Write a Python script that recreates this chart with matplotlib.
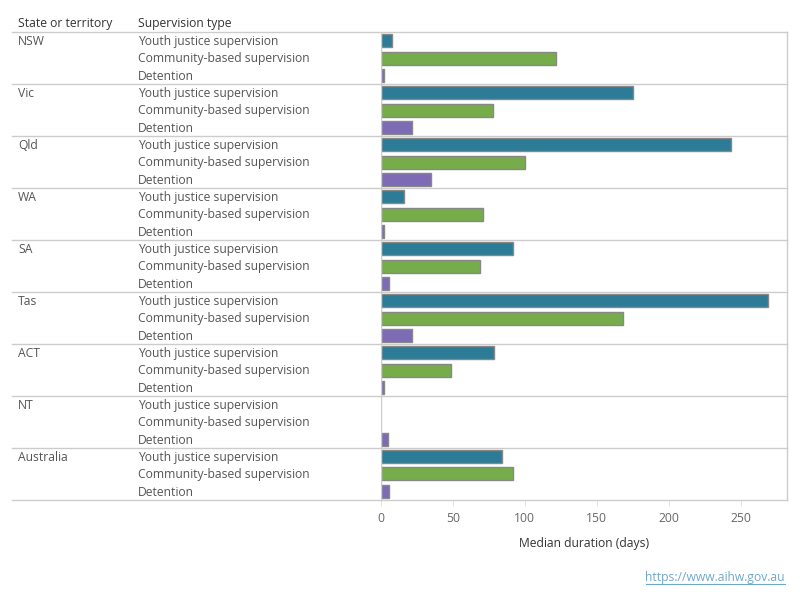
import matplotlib
matplotlib.use("Agg")
import matplotlib.pyplot as plt
import matplotlib.transforms as mtransforms
from matplotlib.lines import Line2D

states = ["NSW", "Vic", "Qld", "WA", "SA", "Tas", "ACT", "NT", "Australia"]
types = ["Youth justice supervision", "Community-based supervision", "Detention"]
youth = [8, 175, 243, 16, 92, 269, 79, None, 84]
community = [122, 78, 100, 71, 69, 168, 49, None, 92]
detention = [2, 22, 35, 2, 6, 21.5, 2, 5, 6]
colors = ["#2C7C98", "#76AD4A", "#7E6BB5"]
xticks = [0, 50, 100, 150, 200, 250]

plt.rcParams['font.family'] = ['Open Sans', 'DejaVu Sans']
FS = 8.7
W, H = 800, 600
fig = plt.figure(figsize=(8, 6), dpi=100)
x0, x1 = 380.7, 787
y_top, y_bot = 32, 500
ax = fig.add_axes([x0 / W, 1 - y_bot / H, (x1 - x0) / W, (y_bot - y_top) / H])
nrows = len(states) * 3
ax.set_ylim(nrows, 0)
xmax = (x1 - x0) / 1.44
ax.set_xlim(0, xmax)
for s in ax.spines.values():
    s.set_visible(False)
ax.set_yticks([])
ax.set_xticks(xticks)
ax.tick_params(axis='x', length=4, color='#e0e0e0', labelcolor='#666666', labelsize=FS, pad=5)
ax.set_xlabel("Median duration (days)", fontsize=FS, color='#333333', labelpad=8)

series = [youth, community, detention]
for gi in range(len(states)):
    for ti in range(3):
        v = series[ti][gi]
        y = gi * 3 + ti + 0.5
        if v is not None:
            ax.barh(y, v, height=0.75, color=colors[ti], edgecolor='#888888', linewidth=1)

blend = mtransforms.blended_transform_factory(fig.transFigure, ax.transData)
grid_c = '#cccccc'
for gi in range(len(states) + 1):
    ax.plot([12 / W, x1 / W], [gi * 3, gi * 3], transform=blend, color=grid_c, lw=1, clip_on=False)
ax.axvline(0, color=grid_c, lw=1)
ax.plot([1, 1], [0, 1], transform=ax.transAxes, color=grid_c, lw=1, clip_on=False)

for gi, st in enumerate(states):
    ax.text(18 / W, gi * 3 + 0.55, st, transform=blend, ha='left', va='center', fontsize=FS, color='#555555')
    for ti, t in enumerate(types):
        ax.text(138 / W, gi * 3 + ti + 0.55, t, transform=blend, ha='left', va='center', fontsize=FS, color='#555555')

fig.text(18 / W, 1 - 24 / H, "State or territory", ha='left', va='center', fontsize=FS, color='#333333')
fig.text(138 / W, 1 - 24 / H, "Supervision type", ha='left', va='center', fontsize=FS, color='#333333')

url = fig.text(785 / W, 1 - 577 / H, "https://www.aihw.gov.au", ha='right', va='center', fontsize=FS, color='#6FA8C9')
fig.canvas.draw()
bb = url.get_window_extent(fig.canvas.get_renderer())
uy = (1 - 584 / H)
fig.add_artist(Line2D([bb.x0 / W, bb.x1 / W], [uy, uy], transform=fig.transFigure, color='#6FA8C9', lw=0.8))
fig.savefig("out.png", dpi=100)
